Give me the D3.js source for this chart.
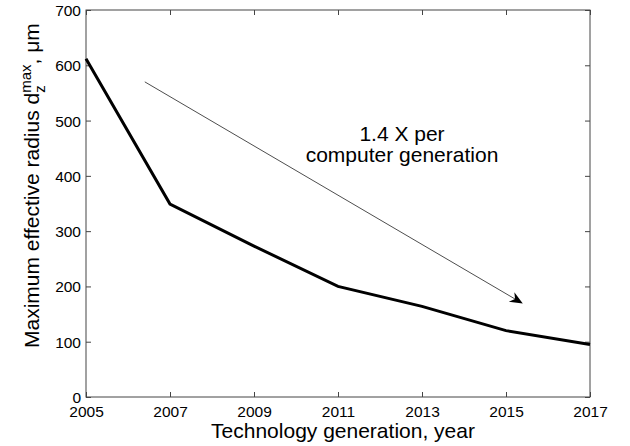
<!DOCTYPE html>
<html><head><meta charset="utf-8">
<script src="https://cdn.jsdelivr.net/npm/d3@7"></script>
<style>body{margin:0;background:#fff}svg{display:block;font-family:"Liberation Sans",Arial,Helvetica,sans-serif}</style>
</head><body><svg id="c" width="630" height="446"></svg>
<script>
const years = [2005, 2007, 2009, 2011, 2013, 2015, 2017];
const radius = [612, 349, 273, 200, 164, 120, 95];
const xTicks = [2005, 2007, 2009, 2011, 2013, 2015, 2017];
const yTicks = [0, 100, 200, 300, 400, 500, 600, 700];
const arrowFrom = [2006.4, 570];
const arrowTo = [2015.4, 169];
const noteLines = ["1.4 X per", "computer generation"];

const svg = d3.select("#c");
const m = {l: 86, r: 40, t: 10, b: 49};
const W = 630, H = 446;
const x = d3.scaleLinear().domain([2005, 2017]).range([m.l, W - m.r]);
const y = d3.scaleLinear().domain([0, 700]).range([H - m.b, m.t]);
const axCol = "#444";

// box
svg.append("rect").attr("x", x(2005)).attr("y", y(700))
  .attr("width", x(2017) - x(2005)).attr("height", y(0) - y(700))
  .attr("fill", "none").attr("stroke", axCol).attr("stroke-width", 1);

const tl = 5;
const gx = svg.append("g").attr("transform", `translate(0,${y(0)})`)
  .call(d3.axisBottom(x).tickValues(xTicks).tickFormat(d3.format("d")).tickSizeInner(-tl).tickSizeOuter(0).tickPadding(8));
const gxt = svg.append("g").attr("transform", `translate(0,${y(700)})`)
  .call(d3.axisTop(x).tickValues(xTicks).tickFormat("").tickSizeInner(-tl).tickSizeOuter(0));
const gy = svg.append("g").attr("transform", `translate(${x(2005)},0)`)
  .call(d3.axisLeft(y).tickValues(yTicks).tickFormat(d3.format("d")).tickSizeInner(-tl).tickSizeOuter(0).tickPadding(5));
const gyr = svg.append("g").attr("transform", `translate(${x(2017)},0)`)
  .call(d3.axisRight(y).tickValues(yTicks).tickFormat("").tickSizeInner(-tl).tickSizeOuter(0));
[gx, gxt, gy, gyr].forEach(g => {
  g.select(".domain").remove();
  g.selectAll("line").attr("stroke", axCol);
  g.selectAll("text").attr("fill", "#000").style("font-size", "15.5px").style("font-family", '"Liberation Sans",Arial,sans-serif');
});
gx.selectAll("text").attr("dy", "0.71em").attr("y", 8.5);
gy.selectAll("text").attr("dy", "0.35em");

// data line
svg.append("path").datum(years.map((d, i) => [d, radius[i]]))
  .attr("d", d3.line().x(d => x(d[0])).y(d => y(d[1])))
  .attr("fill", "none").attr("stroke", "#000").attr("stroke-width", 3)
  .attr("stroke-linejoin", "miter");

// arrow
const ax1 = x(arrowFrom[0]), ay1 = y(arrowFrom[1]), ax2 = x(arrowTo[0]), ay2 = y(arrowTo[1]);
const ang = Math.atan2(ay2 - ay1, ax2 - ax1);
const hl = 13, hw = 5.5, back = 9;
svg.append("line").attr("x1", ax1).attr("y1", ay1)
  .attr("x2", ax2 - Math.cos(ang) * back).attr("y2", ay2 - Math.sin(ang) * back)
  .attr("stroke", "#000").attr("stroke-width", 0.7);
const head = [[0, 0], [-hl, -hw], [-back, 0], [-hl, hw]];
svg.append("path")
  .attr("d", "M" + head.map(p => p.join(",")).join("L") + "Z")
  .attr("transform", `translate(${ax2},${ay2}) rotate(${ang * 180 / Math.PI})`)
  .attr("fill", "#000");

// annotation
const note = svg.append("text").attr("text-anchor", "middle").style("font-size", "21px");
noteLines.forEach((t, i) => note.append("tspan").attr("x", 402).attr("y", 141 + i * 21).text(t));

// x label
svg.append("text").attr("x", 343).attr("y", 438).attr("text-anchor", "middle")
  .style("font-size", "21px").text("Technology generation, year");

// y label with stacked super/subscript
const yl = svg.append("text").attr("transform", "translate(39,348) rotate(-90)")
  .style("font-size", "21px");
yl.append("tspan").text("Maximum effective radius d");
const sup = yl.append("tspan").attr("dy", -8).style("font-size", "15px").text("max");
const supW = sup.node().getComputedTextLength();
const sub = yl.append("tspan").attr("dx", -supW).attr("dy", 14).style("font-size", "15px").text("z");
const subW = sub.node().getComputedTextLength();
yl.append("tspan").attr("dx", supW - subW).attr("dy", -6).text(", μm");
</script></body></html>
